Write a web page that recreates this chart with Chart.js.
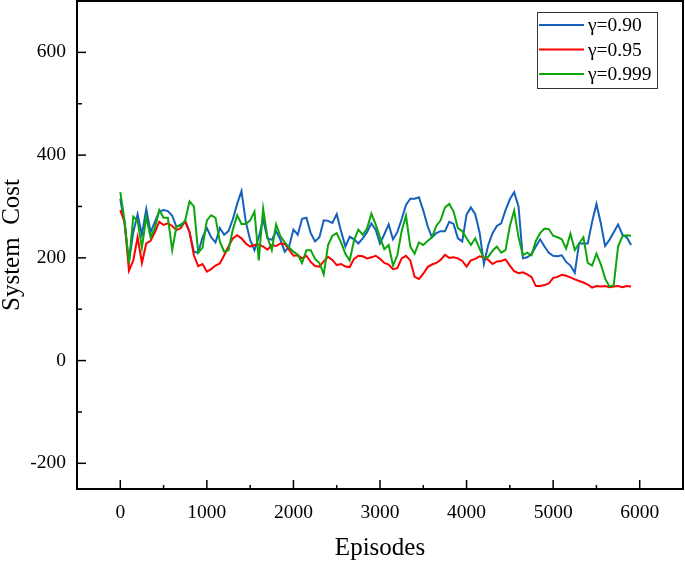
<!DOCTYPE html>
<html>
<head>
<meta charset="utf-8">
<script src="https://cdn.jsdelivr.net/npm/chart.js@4.4.1/dist/chart.umd.min.js"></script>
<style>
  html, body { margin: 0; padding: 0; background: #fff; }
  #wrap { width: 685px; height: 561px; }
</style>
</head>
<body>
<div id="wrap"><canvas id="mychart" width="685" height="561"></canvas></div>
<script>
// episodes sampled every 50
var episodes = [];
for (var e = 0; e <= 5900; e += 50) episodes.push(e);

var gamma090 = [
  315, 265, 192, 250, 285, 245, 295, 250, 270, 290, 293, 291, 282, 260, 265, 270, 250, 212, 210, 240, 258, 240, 230, 258, 245,
  252, 275, 305, 330, 270, 235, 215, 240, 275, 238, 235, 252, 235, 212, 222, 255, 245, 276, 278, 248, 232, 240, 273, 272, 268, 285,
  252, 222, 241, 236, 228, 238, 250, 267, 255, 228, 246, 265, 236, 250, 275, 303, 315, 315, 318, 292, 262, 240, 248, 252, 252,
  270, 266, 238, 232, 284, 298, 285, 250, 188, 225, 248, 262, 267, 293, 314, 328, 300, 199, 201, 207, 222, 236, 222, 210, 204,
  203, 205, 192, 185, 171, 228, 228, 228, 270, 305, 268, 223, 235, 250, 265, 245, 240, 225
];
var gamma095 = [
  293, 270, 175, 195, 240, 190, 228, 233, 250, 270, 264, 267, 262, 254, 258, 272, 250, 205, 184, 188, 173, 178, 185, 189, 205,
  222, 238, 244, 238, 228, 222, 225, 226, 222, 216, 225, 223, 228, 227, 216, 204, 205, 199, 204, 192, 184, 183, 193, 202, 196, 186,
  188, 183, 182, 198, 204, 203, 199, 201, 204, 198, 190, 187, 178, 180, 199, 204, 195, 163, 159, 169, 182, 187, 190, 196, 206,
  200, 201, 199, 194, 183, 195, 198, 203, 201, 196, 188, 193, 194, 197, 185, 174, 170, 172, 168, 163, 145, 145, 147, 150, 161,
  163, 167, 165, 162, 158, 155, 152, 148, 142, 145, 144, 145, 143, 144, 145, 143, 145, 144
];
var gamma0999 = [
  328, 272, 190, 280, 272, 220, 280, 240, 258, 293, 278, 278, 215, 262, 262, 273, 310, 300, 210, 220, 273, 283, 278, 232, 212,
  215, 255, 283, 266, 266, 273, 290, 195, 296, 240, 215, 265, 242, 230, 220, 212, 206, 190, 215, 215, 198, 190, 168, 225, 243, 248,
  230, 208, 195, 234, 255, 245, 257, 286, 265, 240, 217, 225, 185, 205, 252, 282, 222, 208, 230, 225, 233, 240, 262, 273, 298,
  305, 290, 258, 252, 238, 225, 238, 218, 199, 202, 214, 222, 210, 215, 262, 292, 240, 205, 210, 205, 233, 248, 257, 256, 243,
  240, 236, 218, 247, 215, 228, 240, 190, 185, 208, 188, 160, 144, 147, 222, 242, 244, 243
];

var seriesLabels = ['\u03b3=0.90', '\u03b3=0.95', '\u03b3=0.999'];
var seriesColors = ['#1560bd', '#ff0000', '#0ca60c'];
var xTicks = [0, 1000, 2000, 3000, 4000, 5000, 6000];
var yTicks = [-200, 0, 200, 400, 600];

function pts(vals) {
  return vals.map(function (v, i) { return { x: episodes[i], y: v }; });
}

// frame, inward ticks and the boxed legend
var framePlugin = {
  id: 'frame',
  afterDraw: function (chart) {
    var ctx = chart.ctx, a = chart.chartArea;
    var xs = chart.scales.x, ys = chart.scales.y;
    ctx.save();
    ctx.strokeStyle = '#000';
    ctx.lineWidth = 1.5;
    xTicks.forEach(function (v, i) {
      var px = xs.getPixelForValue(v);
      ctx.beginPath(); ctx.moveTo(px, a.bottom); ctx.lineTo(px, a.bottom - 9); ctx.stroke();
      var mx = xs.getPixelForValue(v + 500);
      if (mx < a.right - 2) {
        ctx.beginPath(); ctx.moveTo(mx, a.bottom); ctx.lineTo(mx, a.bottom - 4); ctx.stroke();
      }
    });
    yTicks.forEach(function (v) {
      var py = ys.getPixelForValue(v);
      ctx.beginPath(); ctx.moveTo(a.left, py); ctx.lineTo(a.left + 9, py); ctx.stroke();
      var my = ys.getPixelForValue(v + 100);
      if (my > a.top + 2) {
        ctx.beginPath(); ctx.moveTo(a.left, my); ctx.lineTo(a.left + 5, my); ctx.stroke();
      }
    });
    ctx.lineWidth = 2;
    ctx.strokeRect(a.left, a.top, a.right - a.left, a.bottom - a.top);

    // legend
    var lx = a.right - 146, ly = a.top + 11, lw = 120, lh = 76;
    ctx.lineWidth = 1;
    ctx.strokeStyle = '#333';
    ctx.strokeRect(lx + 0.5, ly + 0.5, lw, lh);
    ctx.font = '19.5px "Liberation Serif"';
    ctx.textBaseline = 'middle';
    ctx.fillStyle = '#000';
    chart.data.datasets.forEach(function (ds, i) {
      var ry = ly + 13 + i * 24.5;
      ctx.strokeStyle = ds.borderColor;
      ctx.lineWidth = 2;
      ctx.beginPath(); ctx.moveTo(lx + 2, ry); ctx.lineTo(lx + 47, ry); ctx.stroke();
      ctx.fillText(ds.label, lx + 51, ry + 1);
    });
    ctx.restore();
  }
};

function plainLabel(v) { return String(v); }

var ctx = document.getElementById('mychart').getContext('2d');
var lineChart = new Chart(ctx, {
  type: 'line',
  data: {
    datasets: [
      { label: seriesLabels[0], data: pts(gamma090), borderColor: seriesColors[0], order: 3 },
      { label: seriesLabels[1], data: pts(gamma095), borderColor: seriesColors[1], order: 2 },
      { label: seriesLabels[2], data: pts(gamma0999), borderColor: seriesColors[2], order: 1 }
    ]
  },
  options: {
    responsive: false,
    animation: false,
    devicePixelRatio: 1,
    layout: { padding: { left: 0, top: 1, right: 2, bottom: 0 } },
    elements: {
      line: { borderWidth: 2, tension: 0, fill: false },
      point: { radius: 0 }
    },
    plugins: {
      legend: { display: false },
      tooltip: { enabled: false }
    },
    scales: {
      x: {
        type: 'linear',
        min: -500,
        max: 6500,
        grid: { display: false, drawTicks: false },
        border: { display: false },
        afterBuildTicks: function (scale) {
          scale.ticks = xTicks.map(function (v) { return { value: v }; });
        },
        afterFit: function (scale) {
          scale.height = 72;
          scale.paddingLeft = 0; scale.paddingRight = 0;
        },
        ticks: {
          padding: 12,
          maxRotation: 0,
          color: '#000',
          callback: plainLabel,
          font: { family: 'Liberation Serif', size: 19.5 }
        },
        title: {
          display: true,
          text: 'Episodes',
          color: '#000',
          padding: 0,
          font: { family: 'Liberation Serif', size: 25, lineHeight: 1 }
        }
      },
      y: {
        min: -250,
        max: 700,
        grid: { display: false, drawTicks: false },
        border: { display: false },
        afterBuildTicks: function (scale) {
          scale.ticks = yTicks.map(function (v) { return { value: v }; });
        },
        afterFit: function (scale) {
          scale.width = 77;
          scale.paddingTop = 0; scale.paddingBottom = 0;
        },
        ticks: {
          padding: 11,
          color: '#000',
          callback: plainLabel,
          font: { family: 'Liberation Serif', size: 19.5 }
        },
        title: {
          display: true,
          text: 'System  Cost',
          color: '#000',
          padding: 0,
          font: { family: 'Liberation Serif', size: 25, lineHeight: 1 }
        }
      }
    }
  },
  plugins: [framePlugin]
});
</script>
</body>
</html>
